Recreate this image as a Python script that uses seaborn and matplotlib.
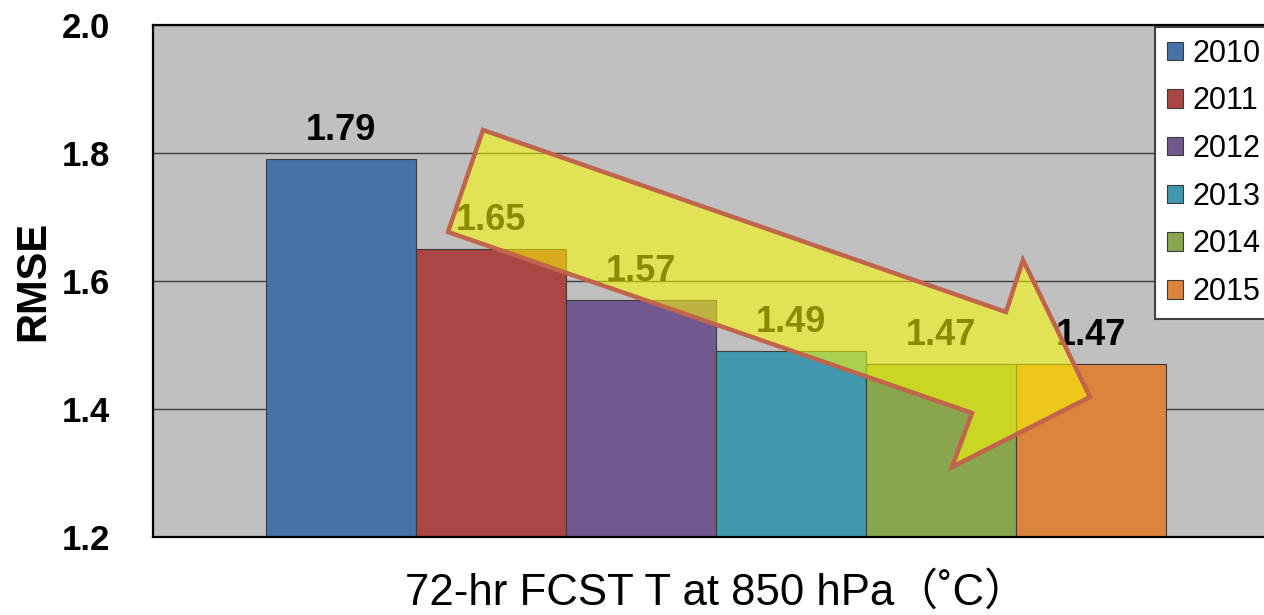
import matplotlib
matplotlib.use("Agg")
import matplotlib.pyplot as plt
from matplotlib.patches import Polygon
import pandas as pd
import seaborn as sns

# Forecast verification data
years = ["2010", "2011", "2012", "2013", "2014", "2015"]
rmse = [1.79, 1.65, 1.57, 1.49, 1.47, 1.47]
bar_colors = ["#4572A7", "#AA4643", "#71588F", "#4198AF", "#89A54E", "#DB843D"]
y_ticks = [1.2, 1.4, 1.6, 1.8, 2.0]
x_title = "72-hr FCST T at 850 hPa（˚C）"
y_title = "RMSE"

df = pd.DataFrame({"group": ["T850"] * len(years), "year": years, "rmse": rmse})

sns.set_theme(style="white")
plt.rcParams["font.family"] = ["Liberation Sans", "Noto Sans CJK SC", "DejaVu Sans"]
plt.rcParams.update({"text.color": "black", "axes.labelcolor": "black",
                     "xtick.color": "black", "ytick.color": "black"})

W, H = 1264, 615
fig = plt.figure(figsize=(W / 100, H / 100), dpi=100)
# plot area runs past the right edge of the canvas
ax = fig.add_axes([153 / W, 1 - 537 / H, 1126 / W, 512 / H])
ax.set_facecolor("#C0C0C0")

sns.barplot(data=df, x="group", y="rmse", hue="year", palette=bar_colors,
            width=0.8, dodge=True, edgecolor="#3a3a3a", linewidth=0.8,
            saturation=1, ax=ax, zorder=2)

ax.set_ylim(1.2, 2.0)
ax.set_xlim(-0.5, 0.5)
ax.set_yticks(y_ticks)
ax.set_yticklabels([f"{t:.1f}" for t in y_ticks], fontsize=25, fontweight="bold")
ax.tick_params(axis="y", length=0, pad=31)
ax.set_xticks([])
ax.yaxis.grid(True, color="#3c3c3c", linewidth=1.0, zorder=0)
ax.set_axisbelow(True)
for s in ax.spines.values():
    s.set_color("black")
    s.set_linewidth(1.6)

ax.set_xlabel(x_title, fontsize=31.5, labelpad=25)
ax.set_ylabel(y_title, fontsize=30, fontweight="bold", labelpad=6)

for cont in ax.containers:
    ax.bar_label(cont, fmt="%.2f", fontsize=26, fontweight="bold",
                 color="black", padding=8, zorder=3)

leg = ax.legend(loc="upper left", bbox_to_anchor=(1155 / W, 1 - 27 / H),
                bbox_transform=fig.transFigure, fontsize=22, frameon=True,
                fancybox=False, handlelength=0.55, handleheight=0.55,
                handletextpad=0.3, labelspacing=0.58, borderpad=0.38,
                borderaxespad=0)
leg.get_frame().set_edgecolor("#404040")
leg.get_frame().set_linewidth(1.5)
leg.get_frame().set_facecolor("white")
leg.get_frame().set_alpha(1)
leg.set_zorder(5)

# Trend arrow overlay (figure pixel space)
arrow_px = [(483, 130), (1006, 312), (1023, 260), (1090, 397),
            (952, 467), (972, 413), (448, 232)]
arrow = Polygon([(x / W, 1 - y / H) for x, y in arrow_px], closed=True,
                transform=fig.transFigure, facecolor=(1, 1, 0, 0.55),
                edgecolor="#C0644B", linewidth=3.2, joinstyle="miter",
                zorder=10, clip_on=False)
ax.add_patch(arrow)

fig.savefig("out.png", dpi=100)
